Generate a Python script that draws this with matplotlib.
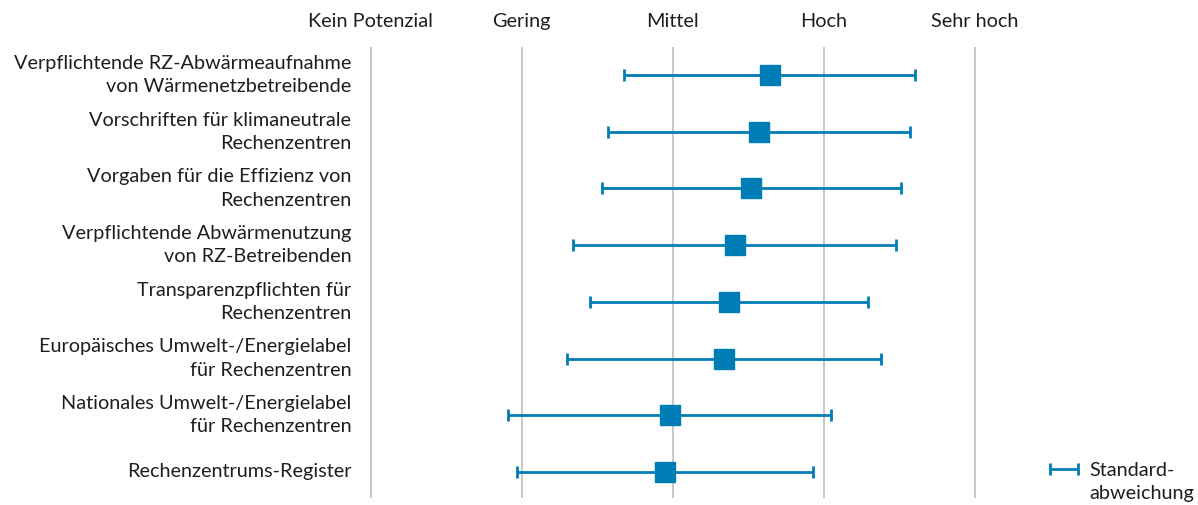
import matplotlib
matplotlib.use("Agg")
import matplotlib.pyplot as plt

categories = [
    "Verpflichtende RZ-Abwärmeaufnahme\nvon Wärmenetzbetreibende",
    "Vorschriften für klimaneutrale\nRechenzentren",
    "Vorgaben für die Effizienz von\nRechenzentren",
    "Verpflichtende Abwärmenutzung\nvon RZ-Betreibenden",
    "Transparenzpflichten für\nRechenzentren",
    "Europäisches Umwelt-/Energielabel\nfür Rechenzentren",
    "Nationales Umwelt-/Energielabel\nfür Rechenzentren",
    "Rechenzentrums-Register",
]
means = [2.64, 2.57, 2.52, 2.41, 2.37, 2.34, 1.98, 1.95]
sds = [0.96, 1.00, 0.99, 1.07, 0.92, 1.04, 1.07, 0.98]
scale_labels = ["Kein Potenzial", "Gering", "Mittel", "Hoch", "Sehr hoch"]
legend_label = "Standard-\nabweichung"

BLUE = "#007DB5"
GRID = "#c4c4c4"
TEXT = "#1e1e1e"
FONT = "Lato"
FS = 14.3
LS = 1.45

plt.rcParams["font.family"] = [FONT, "DejaVu Sans"]

W, H = 1198, 505
fig = plt.figure(figsize=(W / 100, H / 100), dpi=100)
x0px, unit = 370.7, 151.07
xmin, xmax = -0.1, 4.1
top_px, bot_px = 46.7, 498
left = (x0px + xmin * unit) / W
right = (x0px + xmax * unit) / W
ax = fig.add_axes([left, 1 - bot_px / H, right - left, (bot_px - top_px) / H])
ax.set_xlim(xmin, xmax)
ax.set_ylim(7.46, -0.5)

ypos = list(range(len(categories)))
ax.errorbar(means, ypos, xerr=sds, fmt="none", ecolor=BLUE, elinewidth=2.0,
            capsize=4.3, capthick=2.0, zorder=3)
ax.plot(means, ypos, linestyle="none", marker="s", markersize=13.7,
        color=BLUE, zorder=4)

ax.set_xticks(range(len(scale_labels)))
ax.set_xticklabels(scale_labels, fontsize=FS, color=TEXT)
ax.xaxis.tick_top()
ax.tick_params(axis="x", length=0, pad=12)
ax.grid(axis="x", color=GRID, linewidth=1.3, zorder=0)

ax.set_yticks(ypos)
ax.set_yticklabels(categories, fontsize=FS, color=TEXT, linespacing=LS,
                   va="center")
ax.tick_params(axis="y", length=0, pad=3)
for s in ax.spines.values():
    s.set_visible(False)

# legend
lx = (1064 - x0px) / unit
ly = 6.95
ax.errorbar([lx], [ly], xerr=[0.092], fmt="none", ecolor=BLUE, elinewidth=2.0,
            capsize=4.3, capthick=2.0, clip_on=False)
for art in ax.containers[-1].get_children():
    art.set_clip_on(False)
ax.text((1089 - x0px) / unit, ly - 0.13, legend_label, fontsize=FS, color=TEXT,
        ha="left", va="top", linespacing=LS, clip_on=False)

fig.savefig("out.png", dpi=100)
